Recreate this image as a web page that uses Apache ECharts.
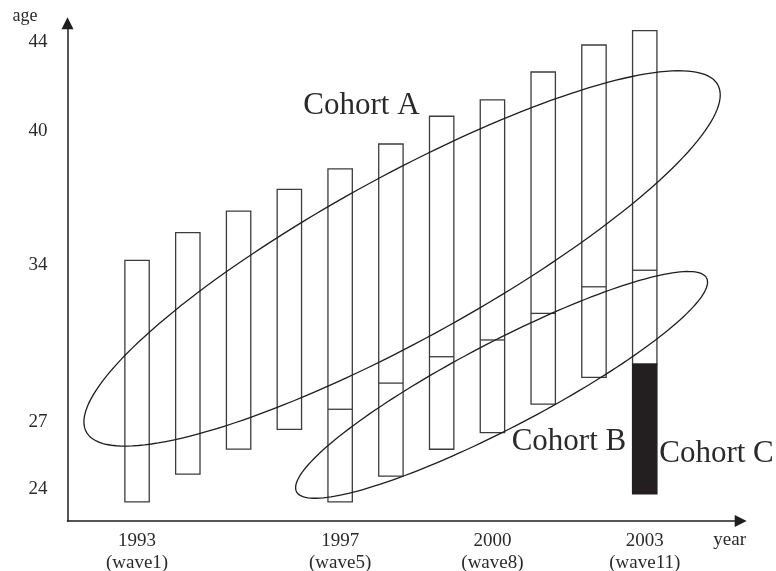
<!DOCTYPE html>
<html><head><meta charset="utf-8">
<script src="https://cdn.jsdelivr.net/npm/echarts@6/dist/echarts.min.js"></script>
<style>html,body{margin:0;padding:0;background:#fff}#chart{width:776px;height:571px}</style>
</head><body><div id="chart"></div>
<script>
// ---- data ----
const years = [1993,1994,1995,1996,1997,1998,1999,2000,2001,2002,2003];
const ageTop = [34.21,35.45,36.42,37.39,38.31,39.42,40.66,41.39,42.64,43.85,44.49];
const ageBottom = [23.41,24.65,25.77,26.65,23.41,24.56,25.76,26.50,27.78,28.98,29.57];
const cohortSplit = [null,null,null,null,27.55,28.72,29.90,30.65,31.84,33.03,33.77];
const cohortCYear = [2003];
const cohortCBottom = [23.76];
const cohortCTop = [29.57];
const yearLabels = [1993,1997,2000,2003];
const waveLabels = ['wave1','wave5','wave8','wave11'];
const ageTicks = [24,27,34,40,44];
const cohortNames = ['Cohort A','Cohort B','Cohort C'];

// ---- annotation geometry (data coordinates) ----
const cohortEllipses = [
  {center:[1998.22,34.30], halfYears:6.267, slope:1.167, halfAge:4.128},
  {center:[2000.18,28.64], halfYears:4.057, slope:1.133, halfAge:2.148}
];
const cohortLabelAnchors = [[1996.275,41.11],[2000.379,26.10],[2003.285,25.56]];

const FONT = '"Liberation Serif", "Times New Roman", serif';
const INK = '#2a2a2a';

const barData = years.map((y,i)=>[y, ageBottom[i], ageTop[i], cohortSplit[i]]);
const blackData = cohortCYear.map((y,i)=>[y, cohortCBottom[i], cohortCTop[i]]);

const chart = echarts.init(document.getElementById('chart'), null, {renderer:'canvas'});
chart.setOption({
  animation:false,
  backgroundColor:'#fff',
  grid:{left:67.5, right:35.3, top:23.3, bottom:50, containLabel:false, outerBoundsMode:'none'},
  graphic:[
    {type:'text', x:713.3, y:540.5, z:10, style:{text:'year', fill:INK, fontFamily:FONT, fontSize:19, align:'left', verticalAlign:'middle'}}
  ],
  xAxis:{
    type:'value', min:1991.63, max:2004.89,
    axisLine:{show:true, symbol:['none','triangle'], symbolSize:[12,12], lineStyle:{color:'#1e1e1e', width:1.5}},
    axisTick:{show:false},
    splitLine:{show:false},
    axisLabel:{
      customValues:yearLabels, margin:9, fontFamily:FONT, fontSize:19, color:INK, lineHeight:22,
      formatter:function(v){ const i = yearLabels.indexOf(Math.round(v)); return i<0 ? '' : Math.round(v)+'\n('+waveLabels[i]+')'; }
    }
  },
  yAxis:{
    type:'value', min:22.55, max:44.82,
    name:'age', nameLocation:'end', nameGap:7,
    nameTextStyle:{fontFamily:FONT, fontSize:18, color:INK, align:'right', verticalAlign:'middle', padding:[0,30,0,0]},
    axisLine:{show:true, symbol:['none','triangle'], symbolSize:[12,12], lineStyle:{color:'#1e1e1e', width:1.5}},
    axisTick:{show:false},
    splitLine:{show:false},
    axisLabel:{customValues:ageTicks, margin:20, fontFamily:FONT, fontSize:19, color:INK}
  },
  series:[
    {
      type:'custom', name:'waves', data:barData, encode:{x:0, y:[1,2]}, clip:false, z:2,
      renderItem:function(params, api){
        const x = api.value(0);
        const w = api.size([0.48,0])[0];
        const pTop = api.coord([x, api.value(2)]);
        const pBot = api.coord([x, api.value(1)]);
        const children = [{type:'rect', shape:{x:pTop[0]-w/2, y:pTop[1], width:w, height:pBot[1]-pTop[1]},
          style:{fill:'#fff', stroke:'#3c3c3c', lineWidth:1.3}}];
        const s = api.value(3);
        if (s != null && !isNaN(s)) {
          const pS = api.coord([x, s]);
          children.push({type:'line', shape:{x1:pS[0]-w/2, y1:pS[1], x2:pS[0]+w/2, y2:pS[1]}, style:{stroke:'#3c3c3c', lineWidth:1.3}});
        }
        return {type:'group', children:children};
      }
    },
    {
      type:'custom', name:'Cohort C', data:blackData, encode:{x:0, y:[1,2]}, clip:false, z:3,
      renderItem:function(params, api){
        const x = api.value(0);
        const w = api.size([0.48,0])[0];
        const pTop = api.coord([x, api.value(2)]);
        const pBot = api.coord([x, api.value(1)]);
        return {type:'rect', shape:{x:pTop[0]-w/2, y:pTop[1], width:w, height:pBot[1]-pTop[1]},
          style:{fill:'#231f20', stroke:'#231f20', lineWidth:1.3}};
      }
    },
    {
      type:'custom', name:'cohorts', data:cohortEllipses.map(e=>e.center), encode:{x:0, y:1}, clip:false, z:4,
      renderItem:function(params, api){
        const e = cohortEllipses[params.dataIndex];
        const pts = [];
        const n = 180;
        for (let k=0;k<n;k++){
          const t = 2*Math.PI*k/n;
          const dx = e.halfYears*Math.cos(t);
          pts.push(api.coord([e.center[0]+dx, e.center[1]+e.slope*dx+e.halfAge*Math.sin(t)]));
        }
        return {type:'polygon', shape:{points:pts}, style:{fill:'none', stroke:'#1e1e1e', lineWidth:1.3}};
      }
    },
    {
      type:'custom', name:'labels', data:cohortLabelAnchors, encode:{x:0, y:1}, clip:false, z:5,
      renderItem:function(params, api){
        const p = api.coord([api.value(0), api.value(1)]);
        return {type:'text', x:p[0], y:p[1], style:{text:cohortNames[params.dataIndex], fill:INK,
          fontFamily:FONT, fontSize:31, align:'left', verticalAlign:'middle'}};
      }
    }
  ]
});
</script></body></html>
